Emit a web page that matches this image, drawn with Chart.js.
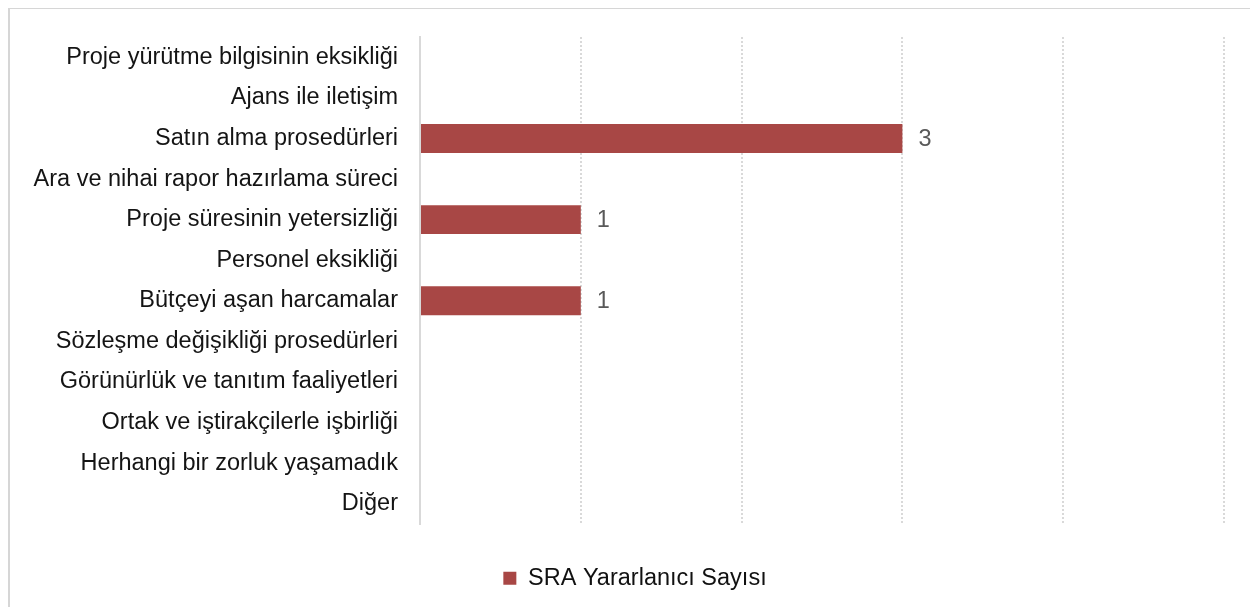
<!DOCTYPE html>
<html>
<head>
<meta charset="utf-8">
<script src="https://cdn.jsdelivr.net/npm/chart.js@4"></script>
<style>
  html, body { margin: 0; padding: 0; background: #fff; overflow: hidden; }
  .frame { position: absolute; left: 8px; top: 8px; width: 1300px; height: 700px; border: 1px solid #d6d6d6; border-left-width: 2px; }
  .wrap { position: absolute; left: 0; top: 0; width: 1250px; height: 607px; }
</style>
</head>
<body>
<div class="frame"></div>
<div class="wrap"><canvas id="myChart"></canvas></div>
<script>
const categories = [
    'Proje yürütme bilgisinin eksikliği',
    'Ajans ile iletişim',
    'Satın alma prosedürleri',
    'Ara ve nihai rapor hazırlama süreci',
    'Proje süresinin yetersizliği',
    'Personel eksikliği',
    'Bütçeyi aşan harcamalar',
    'Sözleşme değişikliği prosedürleri',
    'Görünürlük ve tanıtım faaliyetleri',
    'Ortak ve iştirakçilerle işbirliği',
    'Herhangi bir zorluk yaşamadık',
    'Diğer'
];
const sraValues = [0, 0, 3, 0, 1, 0, 1, 0, 0, 0, 0, 0];
const seriesLabel = 'SRA Yararlanıcı Sayısı';
const axisMax = 5;

const fontFamily = '"Liberation Sans", Arial, sans-serif';

// value labels next to the bars (only non-zero ones)
const valueLabels = {
    id: 'valueLabels',
    afterDatasetsDraw(chart) {
        const c = chart.ctx;
        const meta = chart.getDatasetMeta(0);
        c.save();
        c.font = '23.5px ' + fontFamily;
        c.fillStyle = '#595959';
        c.textAlign = 'left';
        c.textBaseline = 'middle';
        meta.data.forEach((bar, i) => {
            const v = chart.data.datasets[0].data[i];
            if (v > 0) c.fillText(String(v), bar.x + 16, bar.y + 1);
        });
        c.restore();
    }
};

// let the long category labels use the space left of the padded area
const widenLabels = {
    id: 'widenLabels',
    afterLayout(chart) {
        chart.scales.y.left = 0;
    }
};

new Chart(document.getElementById('myChart'), {
    type: 'bar',
    data: {
        labels: categories,
        datasets: [{
            label: seriesLabel,
            data: sraValues,
            backgroundColor: 'rgb(168, 71, 69)',
            barPercentage: 0.714,
            categoryPercentage: 1
        }]
    },
    options: {
        indexAxis: 'y',
        responsive: true,
        maintainAspectRatio: false,
        animation: false,
        layout: {
            padding: { left: 46, right: 26, top: 37, bottom: 7 }
        },
        scales: {
            x: {
                min: 0,
                max: axisMax,
                ticks: { display: false, stepSize: 1 },
                grid: { color: '#d9d9d9', lineWidth: 2, drawTicks: false },
                border: { display: false, dash: [2, 2] },
                afterFit(scale) { scale.height = 32.5; }
            },
            y: {
                ticks: {
                    color: '#141414',
                    padding: 22,
                    font: { size: 23.5, family: fontFamily }
                },
                grid: { display: false, drawTicks: false },
                border: { display: true, color: '#d9d9d9', width: 2 },
                afterFit(scale) { scale.width = 374; }
            }
        },
        plugins: {
            tooltip: { enabled: false },
            legend: {
                position: 'bottom',
                labels: {
                    boxWidth: 13,
                    boxHeight: 13,
                    padding: 10,
                    color: '#111111',
                    font: { size: 23.5, family: fontFamily }
                }
            }
        }
    },
    plugins: [valueLabels, widenLabels]
});
</script>
</body>
</html>
